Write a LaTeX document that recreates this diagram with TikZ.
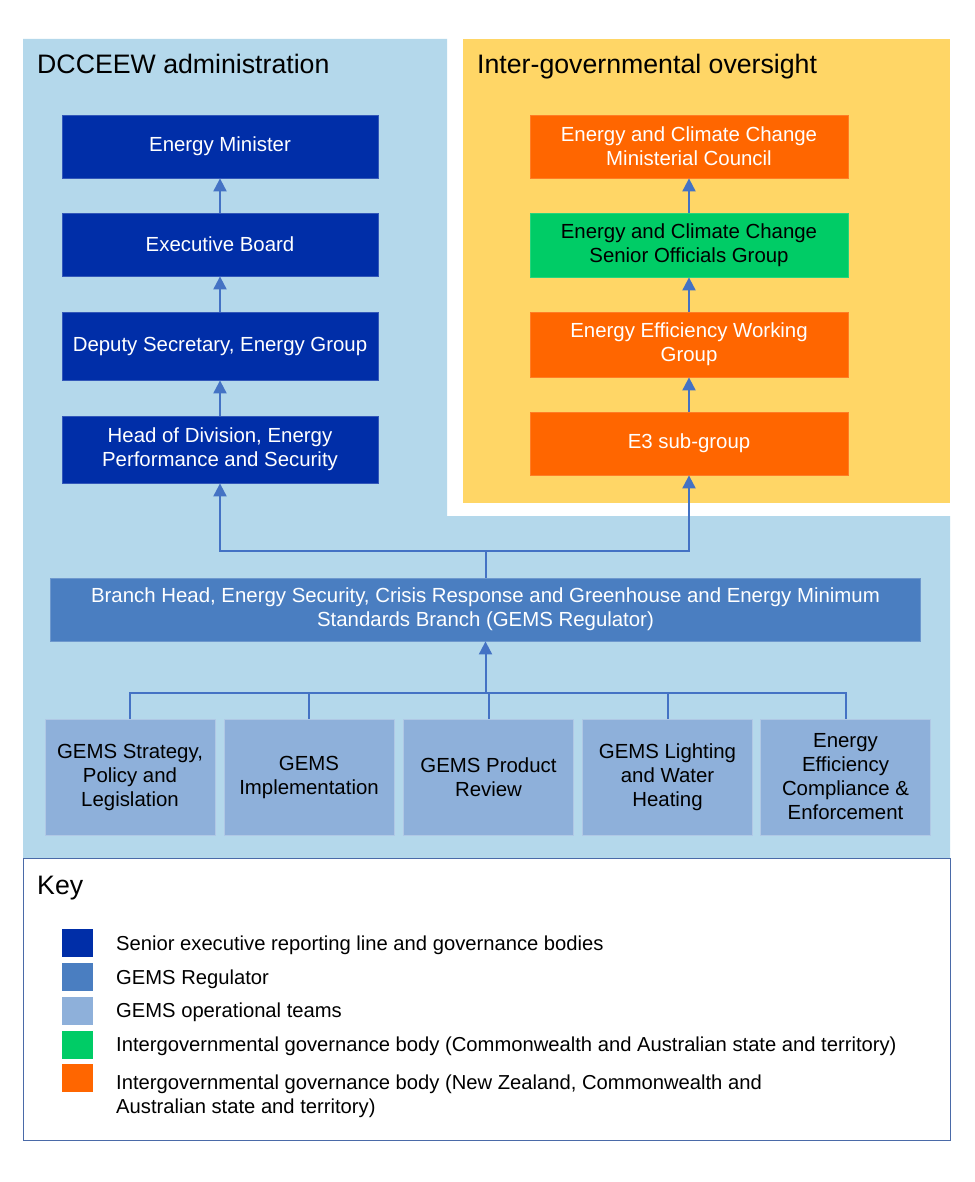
\documentclass[tikz,border=0pt]{standalone}
\usepackage{fontspec}
\setmainfont{Liberation Sans}
\usetikzlibrary{arrows.meta}
\definecolor{bg}{HTML}{B4D8EB}
\definecolor{yel}{HTML}{FFD666}
\definecolor{dblue}{HTML}{002EA8}
\definecolor{mblue}{HTML}{4A7EC1}
\definecolor{lblue}{HTML}{8EB0DA}
\definecolor{orng}{HTML}{FF6600}
\definecolor{grn}{HTML}{00CC66}
\definecolor{conn}{HTML}{4472C4}
\definecolor{keyb}{HTML}{4A6AA8}
\begin{document}
\begin{tikzpicture}[x=1pt,y=-1pt,
  box/.style={inner sep=0pt, align=center, font=\fontsize{20.4}{24}\selectfont, line width=0.8pt},
  darkbox/.style={box, fill=dblue, draw=dblue!80!white, text=white, minimum width=316pt},
  orbox/.style={box, fill=orng, draw=orng!85!white, text=white, minimum width=318pt},
  grbox/.style={box, fill=grn, draw=grn!85!white, text=black, minimum width=318pt},
  midbox/.style={box, fill=mblue, draw=mblue!80!white, text=white},
  teambox/.style={box, fill=lblue, draw=lblue!70!white, text=black, minimum width=170pt, minimum height=116pt},
  ln/.style={conn, line width=2pt},
  arr/.style={ln, -{Triangle[length=13pt,width=13pt]}},
  sw/.style={minimum width=31pt, minimum height=28pt, inner sep=0pt},
  keytxt/.style={anchor=base west, inner sep=0pt, align=left, font=\fontsize{20.2}{24}\selectfont},
  ttl/.style={anchor=base west, inner sep=0pt, font=\fontsize{26.7}{30}\selectfont}
]
\useasboundingbox (0,0) rectangle (974,1182);
\fill[white] (0,0) rectangle (974,1182);
\fill[bg] (23,39) -- (447,39) -- (447,516) -- (950,516) -- (950,858) -- (23,858) -- cycle;
\fill[yel] (463,39) rectangle (950,503);

\node[ttl] (t1) at (37,74) {DCCEEW administration};
\node[ttl] (t2) at (477,74) {Inter-governmental oversight};

% left column
\node[darkbox, minimum height=63pt] (min) at (220,146.5) {Energy Minister};
\node[darkbox, minimum height=63pt] (exb) at (220,244.5) {Executive Board};
\node[darkbox, minimum height=68pt] (dep) at (220,346) {Deputy Secretary, Energy Group};
\node[darkbox, minimum height=67pt] (hod) at (220,449.5) {Head of Division, Energy\\Performance and Security};

% right column
\node[orbox, minimum height=63pt] (ecm) at (689,146.5) {Energy and Climate Change\\Ministerial Council};
\node[grbox, minimum height=64pt] (sog) at (689,245) {Energy and Climate Change\\Senior Officials Group};
\node[orbox, minimum height=65pt] (eew) at (689,344.5) {Energy Efficiency Working\\Group};
\node[orbox, minimum height=63pt] (e3) at (689,443.5) {E3 sub-group};

% branch
\node[midbox, minimum width=870pt, minimum height=63pt] (br) at (485.5,609.5) {Branch Head, Energy Security, Crisis Response and Greenhouse and Energy Minimum\\Standards Branch (GEMS Regulator)};

% teams
\node[teambox] (tm1) at (130,777) {GEMS Strategy,\\Policy and\\Legislation};
\node[teambox] (tm2) at (309,777) {GEMS\\Implementation};
\node[teambox] (tm3) at (488.5,777) {GEMS Product\\Review};
\node[teambox] (tm4) at (667.5,777) {GEMS Lighting\\and Water\\Heating};
\node[teambox] (tm5) at (845.5,777) {Energy\\Efficiency\\Compliance \&\\Enforcement};

% connectors
\draw[arr] (exb.north) -- (min.south);
\draw[arr] (dep.north) -- (exb.south);
\draw[arr] (hod.north) -- (dep.south);
\draw[arr] (sog.north) -- (ecm.south);
\draw[arr] (eew.north) -- (sog.south);
\draw[arr] (e3.north) -- (eew.south);

\coordinate (jn) at (485.5,551);
\draw[ln] (br.north) -- (jn);
\draw[arr] (jn) -| (hod.south);
\draw[arr] (jn) -| (e3.south);

\coordinate (bar) at (0,693);
\draw[ln] (tm1.north) -- (tm1.north |- bar) -- (tm5.north |- bar) -- (tm5.north);
\draw[ln] (tm2.north) -- (tm2.north |- bar);
\draw[ln] (tm3.north) -- (tm3.north |- bar);
\draw[ln] (tm4.north) -- (tm4.north |- bar);
\draw[arr] (br.south |- bar) -- (br.south);

% key
\draw[keyb, fill=white, line width=1pt] (23,858) rectangle (950,1140);
\node[ttl] (key) at (37,894) {Key};
\node[sw, fill=dblue] (s1) at (77.5,943) {};
\node[sw, fill=mblue] (s2) at (77.5,977) {};
\node[sw, fill=lblue] (s3) at (77.5,1011) {};
\node[sw, fill=grn] (s4) at (77.5,1045) {};
\node[sw, fill=orng] (s5) at (77.5,1078) {};
\node[keytxt] (k1) at (116,950) {Senior executive reporting line and governance bodies};
\node[keytxt] (k2) at (116,984) {GEMS Regulator};
\node[keytxt] (k3) at (116,1017.5) {GEMS operational teams};
\node[keytxt] (k4) at (116,1051) {Intergovernmental governance body (Commonwealth and Australian state and territory)};
\node[keytxt] (k5) at (116,1113) {Intergovernmental governance body (New Zealand, Commonwealth and\\Australian state and territory)};
\end{tikzpicture}
\end{document}
